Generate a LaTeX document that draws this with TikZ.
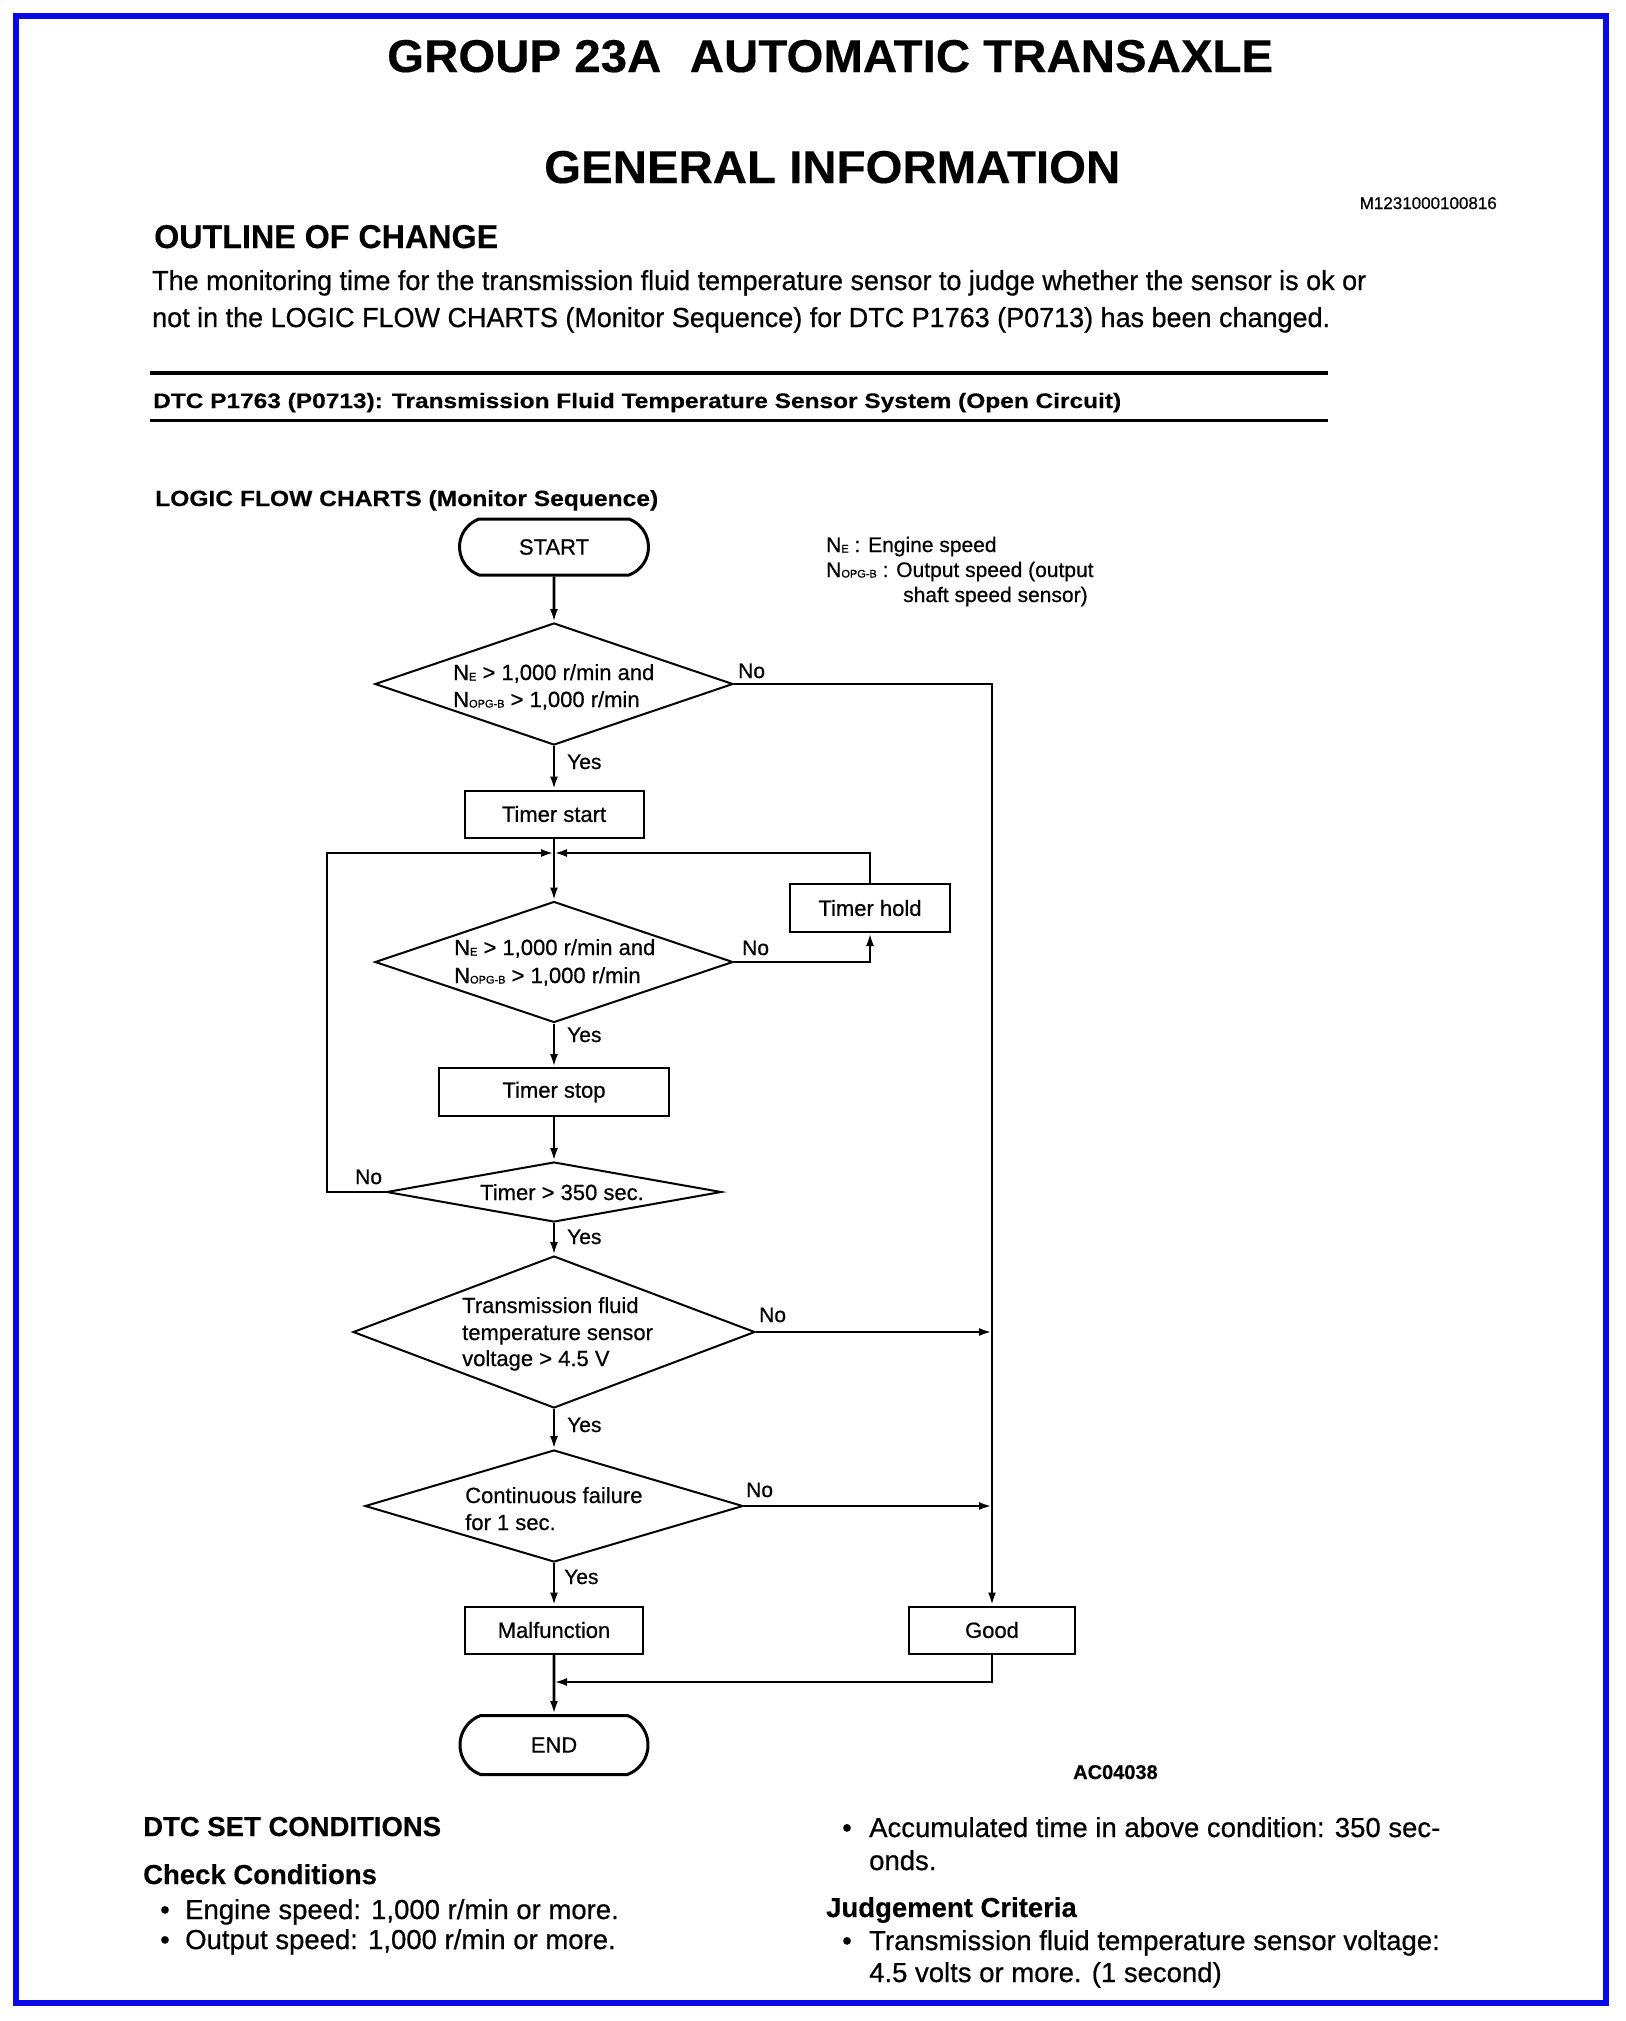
\documentclass[tikz,border=0pt]{standalone}
\usepackage{fontspec}
\usepackage{graphicx}
\setmainfont{Liberation Sans}[UprightFeatures={FakeBold=0.6},BoldFeatures={FakeBold=0.3}]
\usetikzlibrary{shapes.geometric,shapes.misc,arrows.meta}
\definecolor{frameblue}{RGB}{10,10,230}
\newcommand\fsz[1]{\fontsize{#1pt}{#1pt}\selectfont}
\newcommand\fw[2]{\resizebox{#1pt}{\height}{#2}}
\newcommand\subE{\raisebox{-0.5pt}{\fsz{11}E}}
\newcommand\subOPG{\raisebox{-0.5pt}{\fsz{11}OPG-B}}
\begin{document}
\begin{tikzpicture}[x=1pt,y=-1pt,
  txt/.style={inner sep=0pt, anchor=base west},
  ftxt/.style={txt, font=\fsz{22}},
  yn/.style={txt, font=\fsz{21}},
  btxt/.style={txt, font=\fsz{27.5}},
  box/.style={draw, line width=2pt, inner sep=0pt, font=\fsz{22}},
  term/.style={draw, line width=3pt, rounded rectangle, rounded rectangle arc length=140, inner sep=0pt, font=\fsz{22}},
  dia/.style={draw, diamond, line width=2pt, inner sep=0pt},
  plain/.style={line width=2.5pt},
  conn/.style={line width=2.6pt, -{Latex[length=13pt,width=8pt]}}]
\useasboundingbox (0,0) rectangle (1625,2021);
\fill[white] (0,0) rectangle (1625,2021);
\draw[line width=6pt, frameblue] (16,16) rectangle (1606,2003);

% headings
\node[txt] (title) at (387,72) {\fsz{46}\bfseries\fw{886}{GROUP 23A\hspace{0.6em}AUTOMATIC TRANSAXLE}};
\node[txt] (gen) at (544,183) {\fsz{46}\bfseries\fw{576}{GENERAL INFORMATION}};
\node[txt, anchor=base east] (mcode) at (1497,209) {\fsz{17}M1231000100816};
\node[txt] (outline) at (154,248) {\fsz{33}\bfseries\fw{344}{OUTLINE OF CHANGE}};
\node[txt] (para1) at (152,290) {\fsz{27.5}\fw{1214}{The monitoring time for the transmission fluid temperature sensor to judge whether the sensor is ok or}};
\node[txt] (para2) at (152,327) {\fsz{27.5}\fw{1178}{not in the LOGIC FLOW CHARTS (Monitor Sequence) for DTC P1763 (P0713) has been changed.}};
\draw[line width=4pt] (150,373) -- (1328,373);
\node[txt] (dtc) at (153,408) {\fsz{21}\bfseries\fw{968}{DTC P1763 (P0713): Transmission Fluid Temperature Sensor System (Open Circuit)}};
\draw[line width=3pt] (150,420) -- (1328,420);
\node[txt] (logic) at (155,506) {\fsz{22}\bfseries\fw{503}{LOGIC FLOW CHARTS (Monitor Sequence)}};

% legend
\node[txt, font=\fsz{21}] (leg1) at (826,552) {N\subE\ : Engine speed};
\node[txt, font=\fsz{21}] (leg2) at (826,577) {N\subOPG\ : Output speed (output};
\node[txt, font=\fsz{21}] (leg3) at (903,602) {shaft speed sensor)};

% flowchart nodes
\node[term, minimum width=189pt, minimum height=56pt] (start) at (554,547) {START};
\node[dia, minimum width=358pt, minimum height=122pt] (d1) at (554,684) {};
\node[ftxt] (d1a) at (453,680) {N\subE\ > 1,000 r/min and};
\node[ftxt] (d1b) at (453,707) {N\subOPG\ > 1,000 r/min};
\node[box, minimum width=179pt, minimum height=47pt] (tstart) at (554,814) {Timer start};
\coordinate (merge) at (554,853);
\node[box, minimum width=160pt, minimum height=48pt] (thold) at (870,908) {Timer hold};
\node[dia, minimum width=358pt, minimum height=121pt] (d2) at (554,962) {};
\node[ftxt] (d2a) at (454,955) {N\subE\ > 1,000 r/min and};
\node[ftxt] (d2b) at (454,983) {N\subOPG\ > 1,000 r/min};
\node[box, minimum width=230pt, minimum height=48pt] (tstop) at (554,1092) {Timer stop};
\node[dia, minimum width=335pt, minimum height=60pt] (d3) at (554,1192) {};
\node[ftxt, anchor=base] (d3a) at (562,1200) {Timer > 350 sec.};
\node[dia, minimum width=402pt, minimum height=152pt] (d4) at (554,1332) {};
\node[ftxt] (d4a) at (462,1313) {Transmission fluid};
\node[ftxt] (d4b) at (462,1340) {temperature sensor};
\node[ftxt] (d4c) at (462,1366) {voltage > 4.5 V};
\node[dia, minimum width=378pt, minimum height=112pt] (d5) at (554,1506) {};
\node[ftxt] (d5a) at (465,1503) {Continuous failure};
\node[ftxt] (d5b) at (465,1530) {for 1 sec.};
\node[box, minimum width=178pt, minimum height=47pt] (malf) at (554,1630) {Malfunction};
\node[box, minimum width=166pt, minimum height=47pt] (good) at (992,1630) {Good};
\node[term, minimum width=188pt, minimum height=59pt] (end) at (554,1745) {END};
\coordinate (lft) at (327,1192);
\coordinate (ret) at (554,1682);

% connectors
\draw[conn] (start) -- (d1);
\draw[conn] (d1.east) -| (good.north);
\draw[conn] (d1) -- (tstart);
\draw[conn] (tstart) -- (d2);
\draw[conn] (d3.west) -- (lft) |- (merge);
\draw[conn] (d2.east) -| (thold.south);
\draw[conn] (thold.north) |- (merge);
\draw[conn] (d2) -- (tstop);
\draw[conn] (tstop) -- (d3);
\draw[conn] (d3) -- (d4);
\draw[conn] (d4.east) -- (d4.east -| good.north);
\draw[conn] (d4) -- (d5);
\draw[conn] (d5.east) -- (d5.east -| good.north);
\draw[conn] (d5) -- (malf);
\draw[conn] (good.south) |- (ret);
\draw[conn] (malf) -- (end);

% yes / no labels
\node[yn] (y1) at (567,769) {Yes};
\node[yn] (y2) at (567,1042) {Yes};
\node[yn] (y3) at (567,1244) {Yes};
\node[yn] (y4) at (567,1432) {Yes};
\node[yn] (y5) at (564,1584) {Yes};
\node[yn] (n1) at (738,678) {No};
\node[yn] (n2) at (742,955) {No};
\node[yn] (n3) at (355,1184) {No};
\node[yn] (n4) at (759,1322) {No};
\node[yn] (n5) at (746,1497) {No};
\node[txt, font=\fsz{20}\bfseries] (ac) at (1073,1779) {AC04038};

% bottom text
\node[btxt, font=\fsz{27.5}\bfseries] (dtcset) at (143,1836) {DTC SET CONDITIONS};
\node[btxt, font=\fsz{27.5}\bfseries] (check) at (143,1884) {Check Conditions};
\node[btxt, anchor=base] (b1) at (165,1919) {\textbullet};
\node[btxt] (c1) at (185,1919) {Engine speed: 1,000 r/min or more.};
\node[btxt, anchor=base] (b2) at (165,1949) {\textbullet};
\node[btxt] (c2) at (185,1949) {Output speed: 1,000 r/min or more.};
\node[btxt, anchor=base] (b3) at (847,1837) {\textbullet};
\node[btxt] (c3) at (869,1837) {Accumulated time in above condition: 350 sec-};
\node[btxt] (c3b) at (869,1870) {onds.};
\node[btxt, font=\fsz{27.5}\bfseries] (judge) at (826,1917) {Judgement Criteria};
\node[btxt, anchor=base] (b4) at (847,1950) {\textbullet};
\node[btxt] (c4) at (869,1950) {Transmission fluid temperature sensor voltage:};
\node[btxt] (c4b) at (869,1982) {4.5 volts or more. (1 second)};
\end{tikzpicture}
\end{document}
